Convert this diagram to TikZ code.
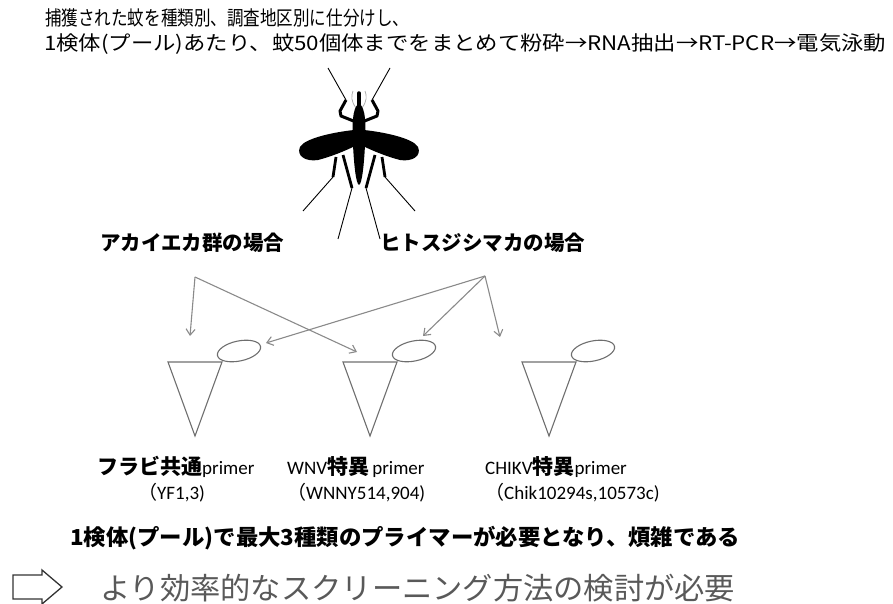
\documentclass[tikz,border=0pt]{standalone}
\usepackage{fontspec}
\setmainfont{Carlito}
\newfontfamily\jp{Noto Sans CJK JP}
\usetikzlibrary{arrows.meta}

\definecolor{linegray}{HTML}{8A8A8A}
\definecolor{tubegray}{HTML}{6E6E6E}
\definecolor{textgray}{HTML}{595959}

% squeeze a line to a given width, keep its height
\newcommand*{\fitline}[2]{\resizebox{#1}{\height}{#2}}

\tikzset{
     plain/.style = { anchor=west, inner sep=0pt },
      lead/.style = { plain, font=\jp\fontsize{20}{22}\selectfont },
    caselbl/.style = { plain, font=\jp\bfseries\fontsize{20.5}{24}\selectfont },
    primer/.style = { plain, font=\fontsize{19}{22}\selectfont },
      note/.style = { plain, font=\jp\bfseries\fontsize{22}{26}\selectfont },
     concl/.style = { plain, font=\jp\fontsize{30}{34}\selectfont, text=textgray },
     arrow/.style = { line width=1.1pt, color=linegray, -{Straight Barb[length=6pt,width=9pt]} },
  tubeline/.style = { line width=1.1pt, color=tubegray },
}
\tikzset{
  tube/.pic={
    \draw [tubeline] (0,0) -- (54,0) -- (27,74) -- cycle;
    \draw [tubeline, rotate around={12:(71,-11)}] (71,-11) ellipse [x radius=22pt, y radius=10pt];
  }
}
\newcommand*{\jb}[1]{{\jp\bfseries\fontsize{21}{24}\selectfont #1}}

\begin{document}
\begin{tikzpicture}[x=1pt, y=-1pt]
  \useasboundingbox (0,0) rectangle (893,604);

  % header
  \node [lead] (top1) at (45,18) {\fitline{364pt}{捕獲された蚊を種類別、調査地区別に仕分けし、}};
  \node [lead] (top2) at (44,44) {\fitline{842pt}{1検体(プール)あたり、蚊50個体までをまとめて粉砕→RNA抽出→RT-PCR→電気泳動}};

  % mosquito
  \foreach \s in {1,-1} {
    \begin{scope}[shift={(359,0)}, xscale=\s]
      % wing
      \fill (-5,130) .. controls (-24,132) and (-54,138) .. (-59,147)
            .. controls (-63,156) and (-53,162) .. (-41,160)
            .. controls (-29,157) and (-14,151) .. (-4,146) -- cycle;
      % antenna
      \draw [gray!70, line width=0.7pt] (-3,108) .. controls (-8,101) and (-8,96) .. (-6,91);
      % legs
      \draw [line width=3pt, line join=round] (-3,122) -- (-18,116) -- (-19,111) -- (-13,100);
      \draw [line width=0.9pt] (-13,100) -- (-31,68);
      \draw [line width=2.8pt] (-23,157) -- (-26,177);
      \draw [line width=0.9pt] (-26,177) -- (-56,211);
      \draw [line width=2.8pt] (-16,155) -- (-7,188);
      \draw [line width=0.9pt] (-7,188) -- (-21,239);
    \end{scope}
  }
  \fill (359,104) .. controls (366,106) and (366,128) .. (365,145)
        .. controls (364,165) and (362,184) .. (359,185)
        .. controls (356,184) and (354,165) .. (353,145)
        .. controls (352,128) and (352,106) .. (359,104) -- cycle;
  \draw [line width=3.5pt, line cap=round] (359,93) -- (359,110);

  % the two cases
  \node [caselbl] (aka)  at (100,243) {アカイエカ群の場合};
  \node [caselbl] (hito) at (380,243) {ヒトスジシマカの場合};
  \coordinate (akaFork)  at (195,277);
  \coordinate (hitoFork) at (485,276);

  % tubes
  \coordinate (tubeA) at (168,362);
  \coordinate (tubeB) at (343,362);
  \coordinate (tubeC) at (522,362);
  \foreach \t in {tubeA,tubeB,tubeC} {
    \pic at (\t) {tube};
  }
  \coordinate (endA1) at (190,336);
  \coordinate (endA2) at (266,343);
  \coordinate (endB1) at (357,352);
  \coordinate (endB2) at (423,336);
  \coordinate (endC1) at (500,337);

  \foreach \a/\b in {akaFork/endA1, akaFork/endB1, hitoFork/endA2, hitoFork/endB2, hitoFork/endC1} {
    \draw [arrow] (\a) -- (\b);
  }

  % primers
  \node [primer] (flavi)   at (97,467)  {\jb{フラビ共通}primer};
  \node [primer] (wnv)     at (287,467) {WNV\jb{特異}\,primer};
  \node [primer] (chikv)   at (485,467) {CHIKV\jb{特異}primer};
  \node [primer] (flaviId) at (138,493) {{\jp （}YF1,3)};
  \node [primer] (wnvId)   at (287,493) {{\jp （}WNNY514,904)};
  \node [primer] (chikvId) at (485,493) {{\jp （}Chik10294s,10573c)};

  % conclusion
  \node [note] (burden) at (70,538) {\fitline{670pt}{1検体(プール)で最大3種類のプライマーが必要となり、煩雑である}};
  \draw [line width=1.3pt, color=black!80, line join=miter]
    (13,575) -- (42,575) -- (42,570) -- (62,587) -- (42,604) -- (42,599) -- (13,599) -- cycle;
  \node [concl] (need) at (100,588) {\fitline{635pt}{より効率的なスクリーニング方法の検討が必要}};

\end{tikzpicture}
\end{document}
